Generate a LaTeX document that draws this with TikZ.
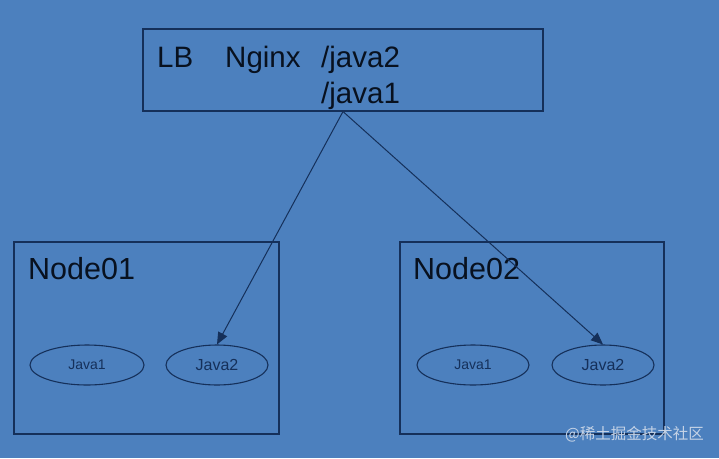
\documentclass[tikz,border=0pt]{standalone}
\usepackage{fontspec}
\setmainfont{Liberation Sans}
\newfontfamily\cjkfont{Noto Sans CJK SC}
\usetikzlibrary{shapes.geometric,arrows.meta}
\definecolor{bgblue}{HTML}{4C80BE}
\definecolor{linec}{HTML}{15305A}
\definecolor{textc}{HTML}{08111F}
\definecolor{wmark}{HTML}{C5D3E6}
\tikzset{
  box/.style={draw=linec, line width=1.1pt},
  bigtxt/.style={anchor=base west, inner sep=0pt, text=textc, font=\fontsize{29.5}{33}\selectfont},
  nodetxt/.style={anchor=base west, inner sep=0pt, text=textc, font=\fontsize{30.5}{34}\selectfont},
  jv/.style={ellipse, draw=linec, line width=1.1pt, inner sep=0pt, minimum height=40pt, text=linec},
  conn/.style={draw=linec, line width=1pt, -{Triangle[length=12pt,width=10pt]}}
}
\begin{document}
\begin{tikzpicture}[x=1pt,y=-1pt]
\fill[bgblue] (0,0) rectangle (719,458);
\useasboundingbox (0,0) rectangle (719,458);
% LB box
\node[box, minimum width=400pt, minimum height=82pt, inner sep=0pt] (lb) at (343,70) {};
\node[bigtxt] (tlb) at (157,67) {LB};
\node[bigtxt] (tng) at (225,67) {Nginx};
\node[bigtxt] (tj2) at (321,67) {/java2};
\node[bigtxt] (tj1) at (321,103) {/java1};
% Node01
\node[box, minimum width=265pt, minimum height=192pt, inner sep=0pt] (n1) at (146.5,338) {};
\node[nodetxt] (n1t) at (28,279) {Node01};
\node[jv, minimum width=114pt, font=\fontsize{14}{16}\selectfont] (n1a) at (87,365) {Java1};
\node[jv, minimum width=102pt, font=\fontsize{16}{18}\selectfont] (n1b) at (217,365) {Java2};
% Node02
\node[box, minimum width=264pt, minimum height=192pt, inner sep=0pt] (n2) at (532,338) {};
\node[nodetxt] (n2t) at (413,279) {Node02};
\node[jv, minimum width=112pt, font=\fontsize{14}{16}\selectfont] (n2a) at (473,365) {Java1};
\node[jv, minimum width=102pt, font=\fontsize{16}{18}\selectfont] (n2b) at (603,365) {Java2};
% connectors
\draw[conn] (lb.south) -- (n1b.north);
\draw[conn] (lb.south) -- (n2b.north);
% watermark
\node[anchor=east, inner sep=0pt, text=wmark, font=\cjkfont\fontsize{15.5}{18}\selectfont] (wm) at (704,434) {@稀土掘金技术社区};
\end{tikzpicture}
\end{document}
